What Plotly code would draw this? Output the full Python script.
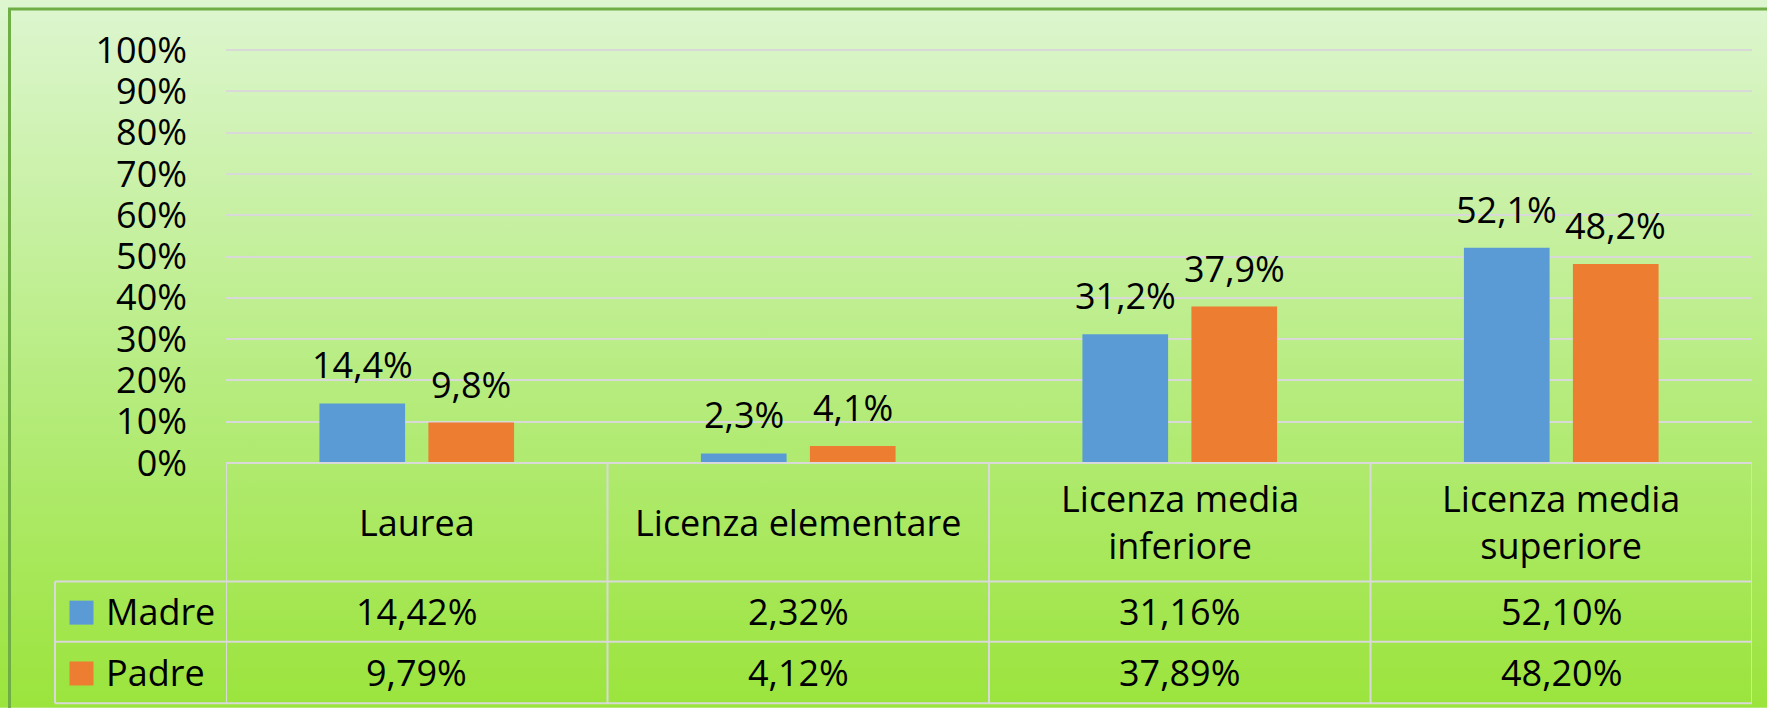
import base64
import plotly.graph_objects as go

# ---------------- data ----------------
categories = ["Laurea", "Licenza elementare", "Licenza media inferiore", "Licenza media superiore"]
header_labels = ["Laurea", "Licenza elementare", "Licenza media<br>inferiore", "Licenza media<br>superiore"]
series_names = ["Madre", "Padre"]
madre = [0.1442, 0.0232, 0.3116, 0.5210]
padre = [0.0979, 0.0412, 0.3789, 0.4820]
y_tick_values = [0, 0.1, 0.2, 0.3, 0.4, 0.5, 0.6, 0.7, 0.8, 0.9, 1.0]

# ---------------- style / geometry ----------------
FIG_W, FIG_H = 1767, 708
YMAX = 1.005
L, R = 226, 1752          # plot area left/right in px
B = 463.5                 # plot area bottom (0%) in px
TOP100 = 50.5             # px of the 100% gridline
H = (B - TOP100) * YMAX
T = B - H
W = R - L
FONT = "Open Sans"
FS = 36
COLORS = ["#5B9BD5", "#ED7D31"]
GRID = "#D9D9D9"
BARGAP = 0.4286
BARGROUPGAP = 0.214
ROW_LINES = [582, 642.3, 703.7]   # header bottom, row1 bottom, table bottom (px)
LEG_LEFT = 55


def py(p):
    return (B - p) / H


def px(p):
    return (p - L) / W


series = [madre, padre]
xs = list(range(len(categories)))

fig = go.Figure()
for name, vals, col in zip(series_names, series, COLORS):
    fig.add_trace(go.Bar(x=xs, y=vals, name=name, marker=dict(color=col, line=dict(width=0)),
                         showlegend=False, hoverinfo="skip"))

annotations = []
shapes = []

# data labels above bars
sub = (1 - BARGAP) / len(series)
for s_i, vals in enumerate(series):
    off = -(1 - BARGAP) / 2 + sub * (s_i + 0.5)
    for i, v in enumerate(vals):
        annotations.append(dict(x=i + off, y=v, xref="x", yref="y", yanchor="bottom", xanchor="center",
                                text=f"{v*100:.1f}%".replace(".", ","), showarrow=False, yshift=12,
                                font=dict(family=FONT, size=FS, color="black")))

# header category labels
for i, lab in enumerate(header_labels):
    annotations.append(dict(x=i, y=py((B + ROW_LINES[0]) / 2), xref="x", yref="paper", text=lab,
                            showarrow=False, xanchor="center", yanchor="middle",
                            font=dict(family=FONT, size=FS, color="black")))

# table rows
row_bounds = [(ROW_LINES[0], ROW_LINES[1]), (ROW_LINES[1], ROW_LINES[2])]
for (top, bot), name, vals, col in zip(row_bounds, series_names, series, COLORS):
    mid = (top + bot) / 2
    for i, v in enumerate(vals):
        annotations.append(dict(x=i, y=py(mid), xref="x", yref="paper",
                                text=f"{v*100:.2f}%".replace(".", ","), showarrow=False,
                                xanchor="center", yanchor="middle",
                                font=dict(family=FONT, size=FS, color="black")))
    annotations.append(dict(x=px(104), y=py(mid), xref="paper", yref="paper", text=name,
                            showarrow=False, xanchor="left", yanchor="middle",
                            font=dict(family=FONT, size=FS, color="black")))
    shapes.append(dict(type="rect", xref="paper", yref="paper", x0=px(69.5), x1=px(93.5),
                       y0=py(mid - 12 + 1), y1=py(mid + 12 + 1), fillcolor=col, line=dict(width=0)))

# table grid lines
line = dict(color=GRID, width=2)
shapes.append(dict(type="line", xref="x", yref="paper", x0=-0.5, x1=len(categories) - 0.5,
                   y0=0, y1=0, line=line))
for yl in ROW_LINES:
    shapes.append(dict(type="line", xref="paper", yref="paper", x0=px(LEG_LEFT), x1=1,
                       y0=py(yl), y1=py(yl), line=line))
for k in range(len(categories) + 1):
    shapes.append(dict(type="line", xref="x", yref="paper", x0=k - 0.5, x1=k - 0.5,
                       y0=0, y1=py(ROW_LINES[-1]), line=line))
shapes.append(dict(type="line", xref="paper", yref="paper", x0=px(LEG_LEFT), x1=px(LEG_LEFT),
                   y0=py(ROW_LINES[0]), y1=py(ROW_LINES[-1]), line=line))

# outer green border (top and left only visible)
shapes.append(dict(type="rect", xref="paper", yref="paper", x0=px(9.5), y0=py(9.5),
                   x1=px(FIG_W + 20), y1=py(FIG_H + 20), line=dict(color="#6FAD45", width=3),
                   fillcolor="rgba(0,0,0,0)"))

# gradient background
svg = (f'<svg xmlns="http://www.w3.org/2000/svg" width="{FIG_W}" height="{FIG_H}" preserveAspectRatio="none">'
       '<defs><linearGradient id="g" x1="0" y1="0" x2="0" y2="1">'
       '<stop offset="0" stop-color="#DDF6D0"/><stop offset="0.55" stop-color="#B6EC7E"/>'
       '<stop offset="1" stop-color="#9BE43C"/></linearGradient></defs>'
       f'<rect x="0" y="0" width="{FIG_W}" height="{FIG_H}" fill="url(#g)"/></svg>')
src = "data:image/svg+xml;base64," + base64.b64encode(svg.encode()).decode()

fig.update_layout(
    width=FIG_W, height=FIG_H,
    margin=dict(l=L, r=FIG_W - R, t=T, b=FIG_H - B, pad=0),
    paper_bgcolor="#BDEC88", plot_bgcolor="rgba(0,0,0,0)",
    barmode="group", bargap=BARGAP, bargroupgap=BARGROUPGAP,
    separators=",.",
    font=dict(family=FONT, size=FS, color="black"),
    xaxis=dict(range=[-0.5, len(categories) - 0.5], showgrid=False, zeroline=False, showline=False,
               showticklabels=False, ticks=""),
    yaxis=dict(range=[0, YMAX], tickvals=y_tick_values, tickformat=".0%", showgrid=True, gridcolor=GRID,
               gridwidth=2, zeroline=False, showline=False, ticks="", ticklabelstandoff=38,
               tickfont=dict(family=FONT, size=FS, color="black")),
    annotations=annotations, shapes=shapes,
    images=[dict(source=src, xref="paper", yref="paper", x=px(0), y=py(0), sizex=FIG_W / W,
                 sizey=FIG_H / H, xanchor="left", yanchor="top", sizing="stretch", layer="below")],
)

fig.write_html("out.html", config={"displayModeBar": False},
               post_script="document.body.style.margin='0';document.body.style.padding='0';"
                           "document.body.style.overflow='hidden';")
